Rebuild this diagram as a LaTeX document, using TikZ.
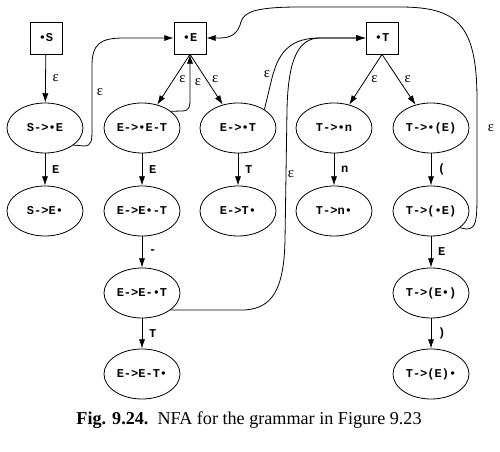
\documentclass[tikz,border=0pt]{standalone}
\usepackage{fontspec}
\setmainfont{Liberation Serif}
\setmonofont{Liberation Mono}
\usetikzlibrary{shapes.geometric,arrows.meta}

\begin{document}
\begin{tikzpicture}[x=0.75pt,y=-0.75pt,line width=0.6pt,
  >={Latex[length=7pt,width=4.6pt]},
  item/.style={draw,ellipse,minimum width=57pt,minimum height=37.5pt,inner sep=0pt,
    font=\fontsize{9}{10}\selectfont\ttfamily\bfseries},
  entry/.style={draw,rectangle,minimum size=24pt,inner sep=0pt,
    font=\fontsize{9}{10}\selectfont\ttfamily\bfseries},
  eps/.style={font=\fontsize{11}{12}\selectfont,inner sep=2pt},
  sym/.style={font=\fontsize{9}{10}\selectfont\ttfamily\bfseries,inner sep=2pt}]
\path[use as bounding box] (0,0) rectangle (500,452);
\node[entry] (bS) at (46,38) {•S};
\node[entry] (bE) at (190,38) {•E};
\node[entry] (bT) at (382,38) {•T};
\node[item] (s0) at (45,128) {S->•E};
\node[item] (s1) at (45,211) {S->E•};
\node[item] (e0) at (142,128) {E->•E-T};
\node[item] (e1) at (142,211) {E->E•-T};
\node[item] (e2) at (142,293) {E->E-•T};
\node[item] (e3) at (142,374) {E->E-T•};
\node[item] (f0) at (238,128) {E->•T};
\node[item] (f1) at (238,211) {E->T•};
\node[item] (n0) at (334,128) {T->•n};
\node[item] (n1) at (334,211) {T->n•};
\node[item] (p0) at (431,128) {T->•(E)};
\node[item] (p1) at (431,211) {T->(•E)};
\node[item] (p2) at (431,293) {T->(E•)};
\node[item] (p3) at (431,374) {T->(E)•};
\draw[->] (bS) -- (s0) node[eps,midway,right=3pt] (l1) {ε};
\draw[->] (s0) -- (s1) node[sym,midway,right=3pt] (l2) {E};
\draw[->] (bE.south) -- (e0) node[eps,midway,right=2pt] (l3) {ε};
\draw[->] (bE.south) -- (f0) node[eps,midway,right=2pt] (l4) {ε};
\draw[->] (e0) -- (e1) node[sym,midway,right=3pt] (l5) {E};
\draw[->] (e1) -- (e2) node[sym,midway,right=3pt] (l6) {-};
\draw[->] (e2) -- (e3) node[sym,midway,right=3pt] (l7) {T};
\draw[->] (f0) -- (f1) node[sym,midway,right=3pt] (l8) {T};
\draw[->] (bT.south) -- (n0) node[eps,midway,right=2pt] (l9) {ε};
\draw[->] (bT.south) -- (p0) node[eps,midway,right=2pt] (l10) {ε};
\draw[->] (n0) -- (n1) node[sym,midway,right=3pt] (l11) {n};
\draw[->] (p0) -- (p1) node[sym,midway,right=3pt] (l12) {(};
\draw[->] (p1) -- (p2) node[sym,midway,right=3pt] (l13) {E};
\draw[->] (p2) -- (p3) node[sym,midway,right=3pt] (l14) {)};
\draw[->] (s0.-31) -- (84,146) .. controls (92,146) and (92,140) .. (92,128)
  -- (92,66) .. controls (92,44) and (100,38) .. (124,38) -- (bE.west);
\draw[->] (e0.30) -- (182,111) .. controls (190,111) and (190,106) .. (190,98) -- (bE.south);
\draw[->] (f0.35) -- (272,78) .. controls (279,50) and (292,38) .. (320,38) -- (bT.west);
\draw[->] (e2.-31) -- (245,310) .. controls (272,308) and (284,290) .. (285,240)
  -- (287,110) .. controls (288,60) and (298,38) .. (320,38) -- (bT.west);
\draw[->] (p1.-30) -- (466,229) .. controls (476,229) and (477,222) .. (477,195)
  -- (477,100) .. controls (477,25) and (458,7) .. (400,7) -- (300,7)
  .. controls (255,7) and (244,12) .. (241,22) .. controls (238,33) and (232,38) .. (220,38)
  -- (bE.east);
\node[eps] (l15) at (100,92) {ε};
\node[eps] (l16) at (198,82) {ε};
\node[eps] (l17) at (267,74) {ε};
\node[eps] (l18) at (291,174) {ε};
\node[eps] (l19) at (491,128) {ε};
\node[font=\fontsize{13.6}{16}\selectfont] (cap) at (249,420)
  {\textbf{Fig. 9.24.}\enspace NFA for the grammar in Figure 9.23};
\end{tikzpicture}
\end{document}
